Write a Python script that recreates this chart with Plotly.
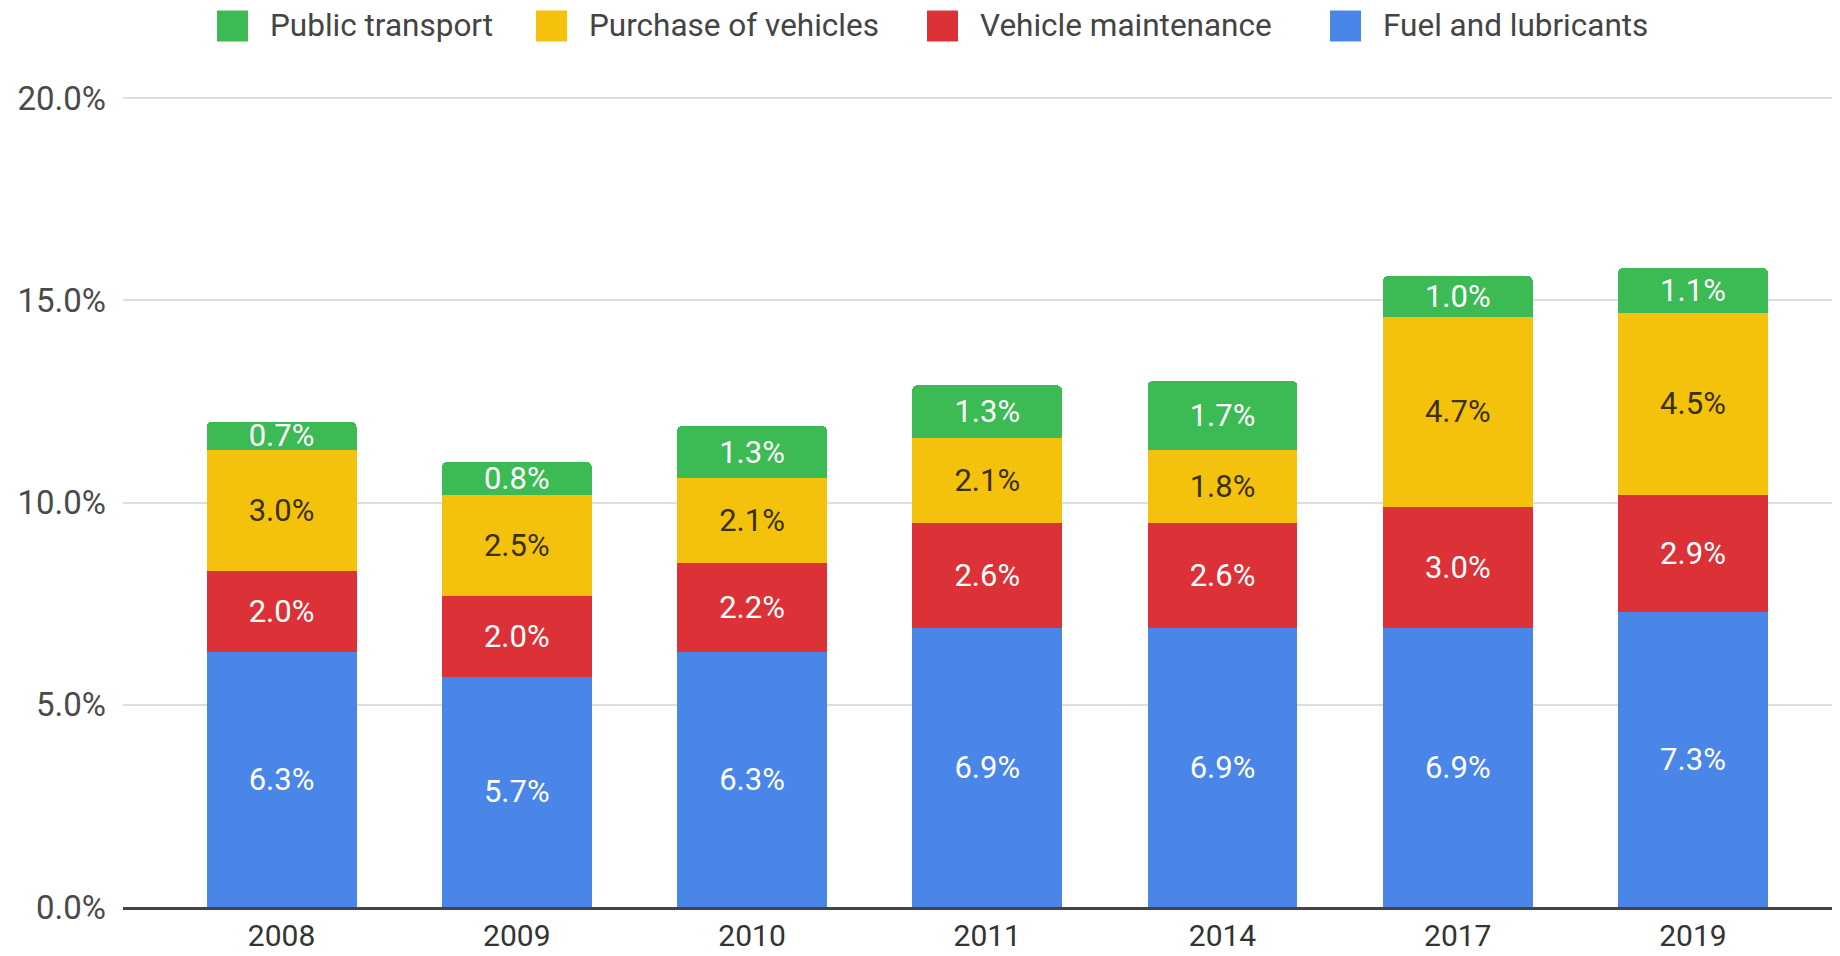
import plotly.graph_objects as go

# ---- data ----
years = ["2008", "2009", "2010", "2011", "2014", "2017", "2019"]
fuel_and_lubricants = [6.3, 5.7, 6.3, 6.9, 6.9, 6.9, 7.3]
vehicle_maintenance = [2.0, 2.0, 2.2, 2.6, 2.6, 3.0, 2.9]
purchase_of_vehicles = [3.0, 2.5, 2.1, 2.1, 1.8, 4.7, 4.5]
public_transport = [0.7, 0.8, 1.3, 1.3, 1.7, 1.0, 1.1]
y_tick_values = [0, 5, 10, 15, 20]
y_tick_labels = ["0.0%", "5.0%", "10.0%", "15.0%", "20.0%"]

series_names = ["Fuel and lubricants", "Vehicle maintenance",
                "Purchase of vehicles", "Public transport"]
series_values = [fuel_and_lubricants, vehicle_maintenance,
                 purchase_of_vehicles, public_transport]

# ---- styles ----
colors = ["#4a86e8", "#dc3237", "#f4c20d", "#3cba54"]
label_colors = ["#ffffff", "#ffffff", "#3a3000", "#ffffff"]
FONT = "Roboto, Arial, sans-serif"

# the page body adds an 8px offset; figure sized to fit the window
OFF = 8
W, H = 1840 - OFF, 956 - OFF
ML, MR, MT, MB = 123 - OFF, 0, 97 - OFF, 49
PW, PH = W - ML - MR, H - MT - MB

fig = go.Figure()
for name, vals, col, lcol in zip(series_names, series_values, colors, label_colors):
    fig.add_trace(go.Bar(
        x=years, y=vals, name=name,
        marker=dict(color=col, line=dict(width=0)),
        texttemplate="%{y:.1f}%",
        textposition="inside",
        insidetextanchor="middle",
        textangle=0,
        constraintext="none",
        textfont=dict(family=FONT, size=31, color=lcol),
        showlegend=False,
    ))

# ---- custom legend (legend order: reverse of stack), page pixel positions ----
legend_square_px = [217, 536, 927, 1330]
legend_center_py = 26
sq = 31


def px_to_paper_x(px):
    return (px - OFF - ML) / PW


def py_to_paper_y(py):
    return (H - MB - (py - OFF)) / PH


for i, idx in enumerate([3, 2, 1, 0]):
    x0 = legend_square_px[i]
    fig.add_shape(type="rect", xref="paper", yref="paper",
                  x0=px_to_paper_x(x0), x1=px_to_paper_x(x0 + sq),
                  y0=py_to_paper_y(legend_center_py + sq / 2),
                  y1=py_to_paper_y(legend_center_py - sq / 2),
                  fillcolor=colors[idx], line=dict(width=0), layer="above")
    fig.add_annotation(xref="paper", yref="paper",
                       x=px_to_paper_x(x0 + sq + 20),
                       y=py_to_paper_y(legend_center_py - 1),
                       text=series_names[idx], showarrow=False,
                       xanchor="left", yanchor="middle",
                       font=dict(family=FONT, size=31.5, color="#444444"))

fig.update_layout(
    width=W, height=H,
    margin=dict(l=ML, r=MR, t=MT, b=MB, pad=0, autoexpand=False),
    barmode="stack",
    bargap=0.3625,
    barcornerradius=5,
    plot_bgcolor="white",
    paper_bgcolor="white",
    uniformtext=dict(minsize=31, mode="show"),
    font=dict(family=FONT, size=31, color="#444444"),
    xaxis=dict(
        type="category",
        range=[-0.674, 6.625],
        automargin=False,
        showgrid=False,
        showline=True, linecolor="#444444", linewidth=2.5,
        ticks="",
        ticklabelstandoff=0,
        tickfont=dict(family=FONT, size=30, color="#333333"),
    ),
    yaxis=dict(
        range=[0, 20.03],
        automargin=False,
        tickvals=y_tick_values,
        ticktext=y_tick_labels,
        showgrid=True, gridcolor="#dedede", gridwidth=2,
        zeroline=False,
        showline=False,
        ticks="",
        ticklabelstandoff=16,
        tickfont=dict(family=FONT, size=33, color="#4a4a4a"),
    ),
)

fig.write_html("out.html")
